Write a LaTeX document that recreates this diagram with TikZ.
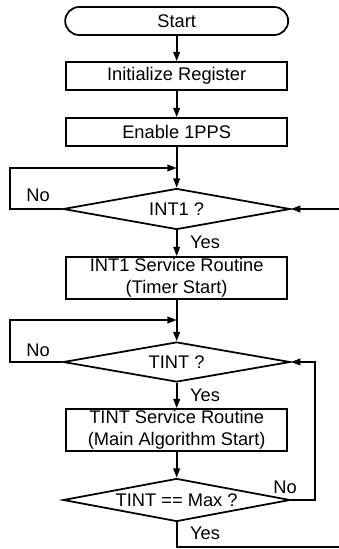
\documentclass[tikz,border=0pt]{standalone}
\usepackage{fontspec}
\setmainfont{Liberation Sans}
\usepackage{tikz}
\usetikzlibrary{shapes.geometric,arrows.meta}

\begin{document}
\begin{tikzpicture}[font=\fontsize{15.6}{18.5}\selectfont, line width=1.5pt, >={Triangle[length=2.8mm,width=2mm]}]
    % Define flow chart shapes
    \tikzstyle{terminal}=[draw, rectangle, rounded corners=0.42cm, minimum width=6.69cm, minimum height=0.84cm, inner sep=0pt]
    \tikzstyle{process}=[draw, rectangle, minimum width=6.63cm, minimum height=0.84cm, inner sep=0pt, align=center]
    \tikzstyle{decision}=[draw, diamond, aspect=5.5, minimum width=6.81cm, inner sep=0pt]

    \useasboundingbox (0,0) rectangle (10.17,-16.47);

    % Place start and set-up steps
    \node[terminal] (start) at (5.3,-0.63) {Start};
    \node[process] (init) at (5.3,-2.28) {Initialize Register};
    \node[process] (enable) at (5.3,-3.96) {Enable 1PPS};

    % Wait for INT1
    \node[decision, minimum height=1.23cm] (int1) at (5.3,-6.27) {INT1 ?};
    \node[process, minimum height=1.26cm] (srv1) at (5.3,-8.34) {INT1 Service Routine\\(Timer Start)};

    % Wait for TINT
    \node[decision, minimum height=1.2cm] (tint) at (5.3,-10.86) {TINT ?};
    \node[process, minimum height=1.26cm] (srv2) at (5.3,-12.9) {TINT Service Routine\\(Main Algorithm Start)};
    \node[decision, minimum height=1.29cm] (max) at (5.3,-15.0) {TINT == Max ?};

    % Loop points
    \coordinate (m1) at (5.3,-5.04);
    \coordinate (m2) at (5.3,-9.6);
    \coordinate (loopA) at (0.3,-6.27);
    \coordinate (loopB) at (0.3,-10.86);
    \coordinate (loopC) at (9.45,-15.0);
    \coordinate (ext) at (10.17,-6.27);
    \coordinate (down) at (5.3,-16.41);
    \coordinate (exit) at (10.17,-16.41);

    % Connect steps
    \draw[->] (start) -- (init);
    \draw[->] (init) -- (enable);
    \draw[->] (enable) -- (int1);
    \draw[->] (int1) -- (srv1);
    \draw[->] (srv1) -- (tint);
    \draw[->] (tint) -- (srv2);
    \draw[->] (srv2) -- (max);
    \draw (max) -- (down) -- (exit);

    % Loops back
    \draw[->] (int1.west) -- (loopA) |- (m1);
    \draw[->] (tint.west) -- (loopB) |- (m2);
    \draw[->] (max.east) -- (loopC) |- (tint.east);
    \draw[->] (ext) -- (int1.east);

    % Branch labels
    \node (no1) at (1.14,-5.85) {No};
    \node (yes1) at (6.15,-7.26) {Yes};
    \node (no2) at (1.14,-10.5) {No};
    \node (yes2) at (6.15,-11.85) {Yes};
    \node (no3) at (8.55,-14.61) {No};
    \node (yes3) at (6.15,-15.99) {Yes};
\end{tikzpicture}
\end{document}
